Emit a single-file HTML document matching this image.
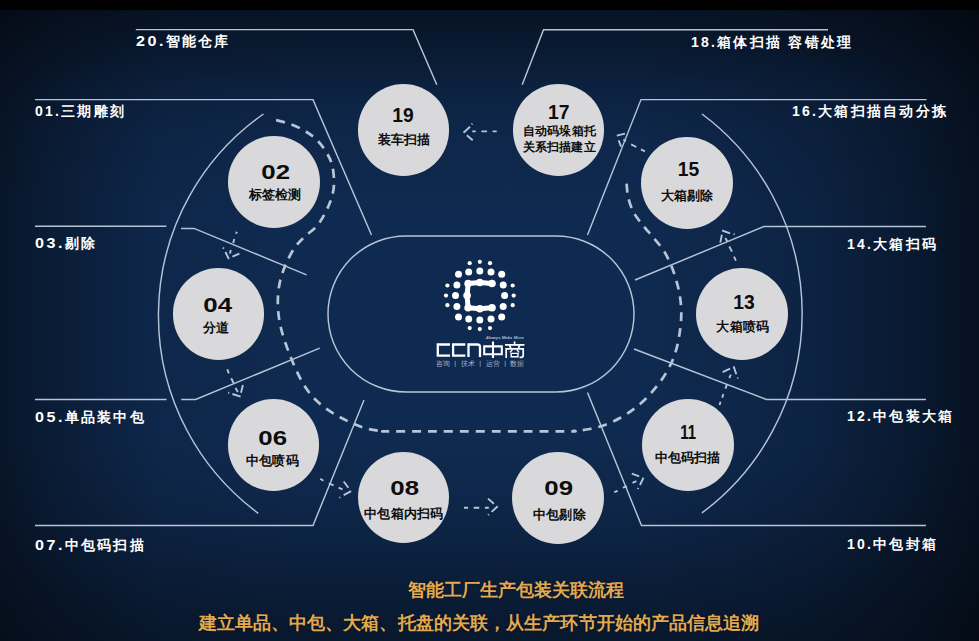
<!DOCTYPE html>
<html lang="zh">
<head>
<meta charset="utf-8">
<title>智能工厂生产包装关联流程</title>
<style>
html,body{margin:0;padding:0;background:#000;}
body{width:979px;height:641px;overflow:hidden;position:relative;font-family:"Liberation Sans",sans-serif;}
#bg{position:absolute;left:0;top:0;width:979px;height:641px;
 background:
  linear-gradient(to bottom, rgba(2,5,10,.62) 10px, rgba(2,5,10,.38) 60px, rgba(2,5,10,.23) 88px, rgba(2,5,10,.09) 135px, rgba(2,5,10,0) 210px, rgba(2,5,10,0) 440px, rgba(2,5,10,.10) 500px, rgba(2,5,10,.22) 545px, rgba(2,5,10,.39) 600px, rgba(2,5,10,.49) 641px),
  linear-gradient(to right, rgba(2,5,10,.55) 0px, rgba(2,5,10,.34) 60px, rgba(2,5,10,.08) 160px, rgba(2,5,10,0) 300px, rgba(2,5,10,0) 640px, rgba(2,5,10,.10) 740px, rgba(2,5,10,.22) 820px, rgba(2,5,10,.42) 900px, rgba(2,5,10,.67) 979px),
  #0f2a50;}
#bar{position:absolute;left:0;top:0;width:979px;height:10px;background:#000;}
svg{position:absolute;left:0;top:0;}
.lbl{position:absolute;color:#fff;font-weight:bold;font-size:14px;letter-spacing:2.25px;line-height:16px;white-space:nowrap;}
.lbl .w{display:inline-block;transform:scaleX(1.15);transform-origin:0 50%;margin-right:3.3px;}
.c{position:absolute;width:91.8px;height:91.8px;border-radius:50%;background:#d9d9db;}
.n{position:absolute;width:92px;text-align:center;color:#0d0d0d;font-weight:bold;font-size:19.3px;line-height:20px;white-space:nowrap;}
.n span{display:inline-block;}
.n .w{transform:scaleX(1.34);}
.n .o{transform:scaleX(1.0);}
.n .oo{transform:scaleX(.78);}
.t{position:absolute;width:92px;text-align:center;color:#0d0d0d;font-weight:bold;font-size:13px;line-height:15px;letter-spacing:.2px;white-space:nowrap;}
.gold{position:absolute;text-shadow:0 0 2px rgba(0,0,0,.6);color:#e2aa50;font-weight:bold;font-size:18px;line-height:22px;white-space:nowrap;}
</style>
</head>
<body>
<div id="bg"></div>
<div id="bar"></div>
<svg width="979" height="641" viewBox="0 0 979 641" fill="none" stroke="#b6c4d8" stroke-width="1.45" stroke-linecap="butt">
 <!-- stadium -->
 <rect x="328" y="236" width="306" height="156" rx="78" ry="78"/>
 <!-- outer arcs -->
 <path d="M263.5 114 A245.8 245.8 0 0 0 258.3 513.3"/>
 <path d="M702 114 A248.6 248.6 0 0 1 701.9 512.9"/>
 <!-- label lines left -->
 <path d="M135.8 29.6 H413 L436.8 84.8"/>
 <path d="M35 99.6 H313 L371.5 235"/>
 <path d="M35 226.3 H166.4 M181.1 228.4 H194 L306.6 274.8"/>
 <path d="M35 399.5 H166.6 M181.2 399.5 H195.6 L319.7 348.2"/>
 <path d="M35 525.5 H313 L364 400"/>
 <!-- label lines right -->
 <path d="M828 29.8 H543.5 L522.2 84.8"/>
 <path d="M926.5 99.6 H641 L587.5 235"/>
 <path d="M926 226.5 H764 L635 280"/>
 <path d="M926 399.5 H766.5 L634 349"/>
 <path d="M926 525.5 H641.5 L587.5 392.5"/>

 <!-- dashed flow path -->
 <g stroke="#b9c4d6" stroke-width="2.7" stroke-dasharray="8.9 7" stroke-dashoffset="13.25">
  <path d="M273.6 119.5 C276.3 120.2 284.8 122.1 290.0 124.0 C295.2 125.9 300.5 128.3 305.0 131.0 C309.5 133.7 313.2 136.3 316.8 139.9 C320.4 143.5 323.9 148.2 326.5 152.5 C329.1 156.8 331.1 160.7 332.3 166.0 C333.6 171.3 334.2 179.0 334.0 184.5 C333.8 190.0 332.7 194.2 331.2 199.0 C329.7 203.8 327.3 208.9 324.9 213.5 C322.4 218.1 319.9 222.6 316.5 226.5 C313.1 230.4 308.1 233.2 304.5 236.8 C300.9 240.4 297.7 243.4 294.6 247.8 C291.6 252.2 288.5 258.2 286.2 263.4 C283.9 268.6 282.0 273.8 280.6 279.0 C279.2 284.2 278.5 289.4 278.1 294.6 C277.7 299.8 277.7 305.0 278.1 310.2 C278.5 315.4 279.3 320.6 280.4 325.8 C281.5 331.0 283.2 336.2 284.9 341.4 C286.6 346.6 288.7 352.1 290.6 357.0 C292.6 361.9 294.4 366.3 296.6 371.0 C298.8 375.7 301.2 380.6 304.0 385.0 C306.8 389.4 309.7 393.6 313.3 397.5 C316.9 401.4 321.4 405.2 325.8 408.4 C330.2 411.6 334.8 414.3 339.5 416.9 C344.2 419.5 349.2 422.0 353.9 424.0 C358.6 426.0 363.0 427.7 367.9 428.9 C372.8 430.1 378.3 430.8 383.5 431.2 C388.7 431.6 369.9 431.4 399.1 431.4 C428.3 431.4 529.5 431.5 558.7 431.4 C587.9 431.3 569.1 431.3 574.3 430.9 C579.5 430.5 584.7 430.0 589.9 429.0 C595.1 428.0 600.4 426.6 605.5 424.7 C610.6 422.8 615.8 420.4 620.5 417.8 C625.2 415.2 629.4 412.3 633.6 409.1 C637.9 405.9 642.1 402.4 646.0 398.5 C649.9 394.6 653.6 390.3 657.0 386.0 C660.4 381.7 663.5 377.3 666.3 372.6 C669.0 367.9 671.6 362.8 673.5 357.9 C675.4 352.9 676.8 348.0 677.9 342.9 C679.0 337.8 679.8 332.5 680.4 327.3 C681.0 322.1 681.4 316.9 681.3 311.7 C681.2 306.5 680.7 301.3 679.9 296.1 C679.1 290.9 677.8 285.7 676.3 280.5 C674.8 275.3 673.1 270.0 671.0 265.0 C668.9 260.0 666.4 254.9 663.6 250.5 C660.8 246.1 657.3 242.3 654.0 238.3 C650.7 234.3 647.1 230.6 643.8 226.4 C640.5 222.2 636.6 217.8 634.0 213.0 C631.4 208.2 629.4 202.4 628.2 197.5 C627.0 192.6 626.9 185.8 626.6 183.4"/>
 </g>
 <!-- small arrows -->
 <g stroke="#b9c4d6" stroke-width="1.9" stroke-linecap="butt">
  <!-- 17 to 19 -->
  <path d="M496.7 131.4 H492.6 M487 131.4 H481.4 M475.8 131.4 H472.2 M470 126.8 L463.5 132.7 M472.4 123.6 L471.6 124.4 M466.8 135.2 L472.7 140.3"/>
  <!-- 02 to 04 -->
  <path d="M236.7 231.7 L236.1 233.7 M234.3 239.1 L233.2 243 M230.8 250 L230 253.6 M225.4 252 L228.9 259 M223 247.6 L223.8 248.6 M232.4 256.7 L239.4 253.6"/>
  <!-- 04 to 06 -->
  <path d="M227.3 369.4 L228.9 373.3 M231.2 378.3 L233.6 383 M235.5 388.1 L237.9 392 M232.4 394 L240.6 396.7 M228.2 392.6 L229.2 393 M242.9 385 L241 392.8"/>
  <!-- 06 to 08 -->
  <path d="M320.3 478.7 L323.4 480.7 M328.9 483.4 L333.6 485.4 M338.6 487.7 L342.5 489.3 M343.7 481.5 L348.4 487.7 M343.7 495.1 L351.1 491.2 M339.4 497.8 L340.2 497.2"/>
  <!-- 08 to 09 -->
  <path d="M464 507.8 H468.1 M473.7 507.8 H479.3 M484.9 507.8 H488.8 M488 498.6 L493.9 503.7 M497.7 506.3 L491.6 511.9 M488.9 514.3 L488.1 515.1"/>
  <!-- 09 to 11 -->
  <path d="M614.2 492.2 L617.7 490.8 M622.8 487.7 L627.1 486.4 M632.5 482.8 L636.4 481.2 M631.8 473.7 L639.2 476.4 M643.5 477.6 L640 485 M638.3 488 L637.7 489"/>
  <!-- 11 to 13 -->
  <path d="M719.5 405 L720.6 401.8 M722.2 397.6 L723.4 394.1 M725.4 388.6 L726.9 384.7 M729.3 378.1 L730.8 374.6 M722.6 372.2 L730.1 368.7 M733.6 366.4 L736.3 374.2 M737.5 377.5 L737.9 378.5"/>
  <!-- 13 to 15 -->
  <path d="M734 256.7 L735.9 260.6 M729.3 246.5 L732 251.6 M725.4 238 L727.3 241.5 M721.9 234.8 L720.3 242.6 M722.2 230.5 L730.1 233.3 M733.6 234 L734.6 234.4"/>
  <!-- 15 to 17 -->
  <path d="M644.9 151.3 L641 149.3 M636.3 147 L631.2 144.3 M625.8 141.2 L623.4 139.6 M616.8 135.7 L625 133.7 M618.7 140.4 L621.1 146.6"/>
 </g>
 <!-- logo -->
<g id="logo" fill="#fff" stroke="none">
<circle cx="469.7" cy="263.2" r="2.1"/>
<circle cx="479.8" cy="261.8" r="2.1"/>
<circle cx="490.0" cy="263.2" r="2.1"/>
<circle cx="447.4" cy="285.5" r="2.1"/>
<circle cx="446.0" cy="295.6" r="2.1"/>
<circle cx="447.4" cy="305.2" r="2.1"/>
<circle cx="512.7" cy="285.5" r="2.1"/>
<circle cx="513.7" cy="295.6" r="2.1"/>
<circle cx="512.7" cy="305.2" r="2.1"/>
<circle cx="469.7" cy="328.1" r="2.1"/>
<circle cx="479.8" cy="329.1" r="2.1"/>
<circle cx="490.0" cy="328.1" r="2.1"/>
<circle cx="458.5" cy="274.3" r="3.5"/>
<circle cx="468.7" cy="271.9" r="3.5"/>
<circle cx="479.8" cy="270.9" r="3.5"/>
<circle cx="491.0" cy="271.9" r="3.5"/>
<circle cx="501.7" cy="274.3" r="3.5"/>
<circle cx="503.2" cy="284.9" r="3.5"/>
<circle cx="504.6" cy="295.6" r="3.5"/>
<circle cx="503.2" cy="306.4" r="3.5"/>
<circle cx="501.7" cy="316.9" r="3.5"/>
<circle cx="491.0" cy="319.0" r="3.5"/>
<circle cx="479.8" cy="320.0" r="3.5"/>
<circle cx="468.7" cy="319.0" r="3.5"/>
<circle cx="458.5" cy="316.9" r="3.5"/>
<circle cx="456.9" cy="306.4" r="3.5"/>
<circle cx="455.5" cy="295.6" r="3.5"/>
<circle cx="456.9" cy="284.9" r="3.5"/>
</g>
<path d="M492.0 283.5 L479.8 282.5 L468.1 283.5 L467.1 295.6 L468.1 307.8 L479.8 308.8 L492.0 307.8" fill="none" stroke="#fff" stroke-width="5" stroke-linecap="round" stroke-linejoin="round"/>
<g fill="#fff" stroke="none">
<circle cx="492.0" cy="283.5" r="3.8"/>
<circle cx="479.8" cy="282.5" r="3.8"/>
<circle cx="468.1" cy="283.5" r="3.8"/>
<circle cx="467.1" cy="295.6" r="3.8"/>
<circle cx="468.1" cy="307.8" r="3.8"/>
<circle cx="479.8" cy="308.8" r="3.8"/>
<circle cx="492.0" cy="307.8" r="3.8"/>
</g>
<g fill="none" stroke="#fff" stroke-width="2.3" stroke-linejoin="miter" stroke-linecap="butt">
 <path d="M450 344.5 H437.8 V355.7 H450"/>
 <path d="M465.3 344.5 H453.1 V355.7 H465.3"/>
 <path d="M468.5 357 V344.5 H477.5 Q480 344.5 480 347 V357"/>
 <path d="M484.2 346.4 H501.8 V354.2 H484.2 Z M493 341.4 V357.9" stroke-width="2.1"/>
</g>
<g fill="none" stroke="#fff" stroke-width="1.7" stroke-linecap="butt">
 <path d="M514.6 341.6 V344.4 M505 344.8 H524.4 M509.6 345.6 L510.8 348 M519.6 345.6 L518.4 348"/>
 <path d="M506.2 358 V348.8 H523.2 V355.6 Q523.2 357.4 521 357.4 H519.6"/>
 <path d="M512.4 349.8 L510 352.4 M516.8 349.8 L519.2 352.4 M511.2 353.4 H518 V356.8 H511.2 Z" stroke-width="1.4"/>
</g>
<text x="485.7" y="338.9" font-family="Liberation Sans, sans-serif" font-size="4.3" font-weight="bold" font-style="italic" fill="#aebbd0" stroke="none" textLength="38.3" lengthAdjust="spacingAndGlyphs">Always Make More</text>
<g font-family="Liberation Sans, sans-serif" font-size="6.6" fill="#a9b8cf" stroke="none">
 <text x="436.1" y="366.3" textLength="13.8" lengthAdjust="spacingAndGlyphs">咨询</text>
 <text x="461.2" y="366.3" textLength="13.8" lengthAdjust="spacingAndGlyphs">技术</text>
 <text x="485.7" y="366.3" textLength="13.8" lengthAdjust="spacingAndGlyphs">运营</text>
 <text x="510.2" y="366.3" textLength="13.8" lengthAdjust="spacingAndGlyphs">数据</text>
</g>
<path d="M455.2 360.8 V366.8 M480.2 360.8 V366.8 M505.2 360.8 V366.8" stroke="#8fa0ba" stroke-width="0.8" fill="none"/>
</svg>
<div class="lbl" style="left:136px;top:32.5px;"><span class="w">20.</span>智能仓库</div>
<div class="lbl" style="left:35px;top:103px;">01.三期雕刻</div>
<div class="lbl" style="left:35px;top:235px;"><span class="w">03.</span>剔除</div>
<div class="lbl" style="left:35px;top:408.5px;"><span class="w">05.</span>单品装中包</div>
<div class="lbl" style="left:35px;top:536.5px;"><span class="w">07.</span>中包码扫描</div>
<div class="lbl" style="left:691px;top:33.5px;">18.箱体扫描 容错处理</div>
<div class="lbl" style="left:792px;top:102.5px;">16.大箱扫描自动分拣</div>
<div class="lbl" style="left:847px;top:235.5px;">14.大箱扫码</div>
<div class="lbl" style="left:847px;top:408px;">12.中包装大箱</div>
<div class="lbl" style="left:847px;top:536px;">10.中包封箱</div>

<div class="c" style="left:357.7px;top:84.3px;"></div>
<div class="n" style="left:357.05px;top:106.15px;"><span class="o">19</span></div>
<div class="t" style="left:358.15px;top:131.75px;">装车扫描</div>
<div class="c" style="left:512.5px;top:84.1px;"></div>
<div class="n" style="left:512.80px;top:102.70px;"><span class="o">17</span></div>
<div class="t" style="left:513.45px;top:124.20px;font-size:12px;">自动码垛箱托</div>
<div class="t" style="left:513.20px;top:140.35px;font-size:12px;">关系扫描建立</div>
<div class="c" style="left:228.1px;top:136.4px;"></div>
<div class="n" style="left:230.20px;top:162.80px;"><span class="w">02</span></div>
<div class="t" style="left:229.30px;top:186.75px;">标签检测</div>
<div class="c" style="left:641.4px;top:137.2px;"></div>
<div class="n" style="left:642.50px;top:160.20px;"><span class="o">15</span></div>
<div class="t" style="left:641.25px;top:187.70px;">大箱剔除</div>
<div class="c" style="left:172.7px;top:267.8px;"></div>
<div class="n" style="left:171.65px;top:295.80px;"><span class="w">04</span></div>
<div class="t" style="left:169.80px;top:320.00px;">分道</div>
<div class="c" style="left:696.1px;top:267.8px;"></div>
<div class="n" style="left:697.90px;top:293.30px;"><span class="o">13</span></div>
<div class="t" style="left:696.75px;top:319.10px;">大箱喷码</div>
<div class="c" style="left:227.5px;top:399.2px;"></div>
<div class="n" style="left:226.60px;top:428.60px;"><span class="w">06</span></div>
<div class="t" style="left:226.50px;top:452.75px;">中包喷码</div>
<div class="c" style="left:641.9px;top:399.2px;"></div>
<div class="n" style="left:641.85px;top:422.55px;"><span class="oo">11</span></div>
<div class="t" style="left:641.70px;top:450.00px;">中包码扫描</div>
<div class="c" style="left:357.7px;top:451.6px;"></div>
<div class="n" style="left:358.60px;top:479.30px;"><span class="w">08</span></div>
<div class="t" style="left:357.75px;top:505.50px;">中包箱内扫码</div>
<div class="c" style="left:512.1px;top:451.8px;"></div>
<div class="n" style="left:512.60px;top:479.45px;"><span class="w">09</span></div>
<div class="t" style="left:513.35px;top:507.15px;">中包剔除</div>

<div class="gold" style="left:407.5px;top:579px;">智能工厂生产包装关联流程</div>
<div class="gold" style="left:198.5px;top:612px;letter-spacing:.1px;">建立单品、中包、大箱、托盘的关联，从生产环节开始的产品信息追溯</div>
</body>
</html>
